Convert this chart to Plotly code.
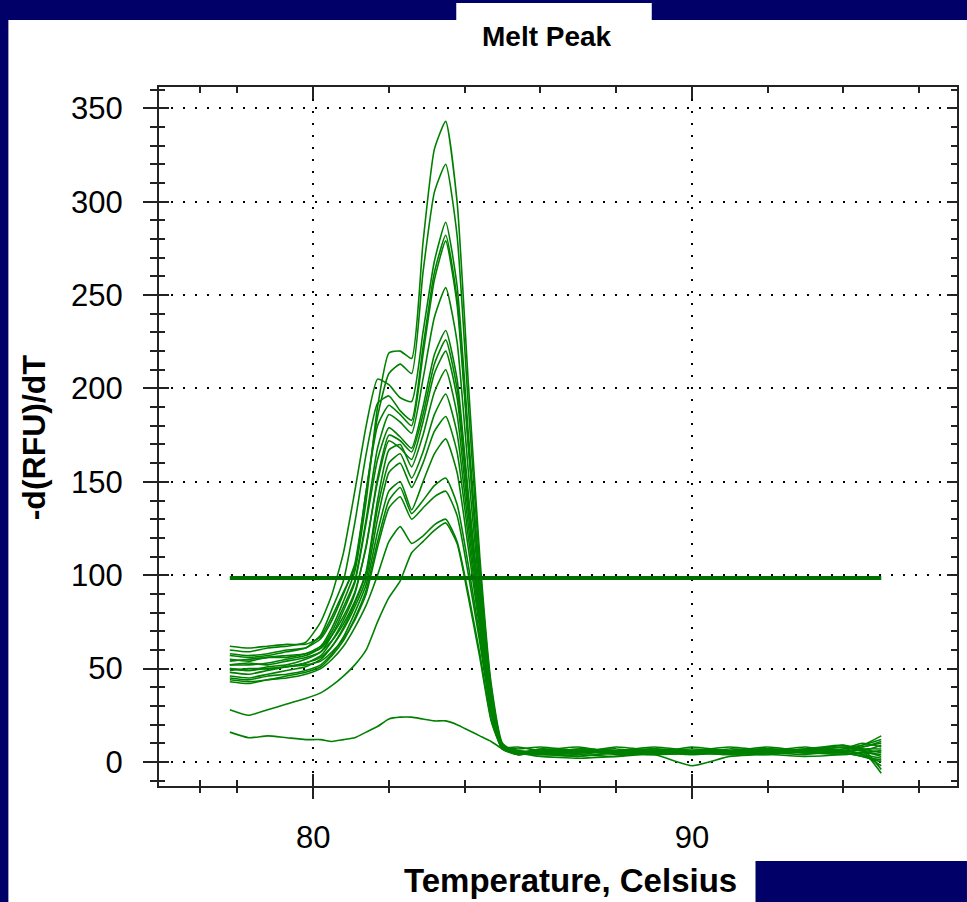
import plotly.graph_objects as go

# ---------------- data ----------------
temperature = [77.8, 78.3, 78.8, 79.3, 79.8, 80.2, 80.5, 80.8, 81.1, 81.4, 81.7, 82.0,
               82.3, 82.6, 82.9, 83.2, 83.5, 83.8, 84.1, 84.4, 84.7, 85.0, 85.4,
               86, 87, 88, 89, 90, 91, 92, 93, 94, 94.5, 95.0]

curve_01 = [55, 54, 56, 57, 58, 62, 72, 86, 102, 140, 190, 219, 220, 216, 278, 328, 343, 300, 202, 110, 42, 10, 5, 7, 5, 8, 6, 5, 6, 8, 6, 8, 9, 14]
curve_02 = [58, 57, 58, 60, 61, 66, 76, 90, 106, 145, 185, 208, 213, 208, 262, 305, 320, 282, 190, 105, 40, 9, 6, 5, 7, 6, 8, 6, 5, 6, 7, 9, 6, 3]
curve_03 = [60, 59, 61, 62, 64, 75, 90, 112, 145, 180, 205, 202, 195, 193, 230, 268, 289, 255, 175, 98, 38, 9, 5, 4, 5, 6, 5, 4, 5, 6, 6, 5, 8, 10]
curve_04 = [57, 56, 57, 59, 61, 68, 82, 97, 128, 165, 192, 196, 188, 183, 222, 262, 282, 248, 170, 96, 37, 9, 4, 6, 8, 5, 6, 5, 6, 5, 7, 6, 4, -2]
curve_05 = [62, 61, 62, 63, 63, 67, 78, 91, 104, 145, 180, 191, 186, 180, 218, 258, 279, 245, 168, 95, 37, 8, 7, 8, 6, 5, 7, 6, 8, 6, 5, 7, 10, 8]
curve_06 = [52, 52, 53, 55, 57, 61, 70, 83, 97, 130, 168, 186, 182, 176, 205, 238, 254, 225, 155, 90, 35, 8, 5, 6, 4, 6, 5, 8, 6, 7, 6, 9, 7, 5]
curve_07 = [50, 49, 51, 52, 55, 59, 68, 81, 96, 128, 162, 179, 174, 168, 190, 218, 231, 205, 143, 85, 33, 8, 4, 5, 4, 3, 6, 5, 4, 5, 6, 5, 3, 0]
curve_08 = [54, 55, 56, 56, 58, 61, 68, 78, 91, 115, 152, 175, 172, 166, 186, 213, 226, 200, 140, 84, 33, 8, 5, 6, 6, 7, 5, 6, 5, 4, 6, 6, 9, 12]
curve_09 = [48, 47, 49, 51, 53, 57, 65, 76, 90, 116, 150, 172, 168, 162, 182, 208, 220, 195, 137, 82, 32, 8, 8, 6, 5, 6, 7, 4, 6, 7, 5, 6, 5, 6]
curve_10 = [52, 53, 52, 54, 56, 59, 65, 74, 86, 102, 140, 167, 170, 158, 175, 198, 210, 186, 132, 80, 31, 8, 5, 4, 6, 5, 4, 5, 7, 6, 8, 5, 7, -4]
curve_11 = [46, 45, 47, 49, 51, 55, 62, 72, 85, 101, 136, 160, 165, 152, 166, 186, 197, 176, 126, 77, 30, 7, 6, 5, 7, 6, 5, 6, 5, 7, 6, 8, 6, 9]
curve_12 = [49, 50, 50, 51, 53, 56, 62, 71, 83, 98, 130, 155, 160, 147, 160, 177, 185, 166, 120, 74, 29, 7, 4, 5, 3, 5, 6, 5, 6, 5, 4, 6, 4, 2]
curve_13 = [45, 44, 46, 47, 49, 52, 58, 67, 80, 95, 123, 145, 150, 135, 150, 165, 173, 155, 114, 71, 28, 7, 5, 7, 6, 5, 6, 7, 6, 6, 6, 7, 8, 11]
curve_14 = [44, 43, 44, 46, 48, 51, 57, 65, 77, 92, 118, 140, 147, 133, 140, 148, 152, 138, 105, 67, 27, 7, 6, 5, 5, 6, 4, 5, 5, 6, 5, 4, 5, 4]
curve_15 = [50, 49, 50, 51, 52, 54, 59, 66, 76, 90, 115, 136, 142, 130, 136, 142, 145, 132, 100, 64, 26, 7, 5, 6, 6, 4, 5, 6, 6, 5, 7, 6, 6, -6]
curve_16 = [43, 42, 44, 45, 47, 50, 55, 62, 72, 84, 100, 118, 126, 117, 121, 127, 130, 118, 90, 58, 23, 7, 4, 5, 5, 6, 6, 5, 4, 6, 5, 5, 7, 7]
curve_17 = [28, 25, 28, 31, 34, 37, 41, 46, 52, 60, 75, 88, 97, 112, 118, 124, 128, 117, 88, 56, 22, 7, 5, 4, 3, 5, 4, 5, 5, 4, 6, 5, 3, 1]
curve_18 = [16, 13, 14, 13, 12, 12, 11, 12, 13, 16, 19, 23, 24, 24, 23, 22, 22, 20, 17, 14, 11, 7, 5, 3, 2, 3, 4, -2, 3, 4, 3, 4, 5, 6]

curves = [curve_01, curve_02, curve_03, curve_04, curve_05, curve_06, curve_07, curve_08, curve_09,
          curve_10, curve_11, curve_12, curve_13, curve_14, curve_15, curve_16, curve_17, curve_18]

threshold_temp = [77.8, 95.0]
threshold_value = [98.5, 98.5]

x_major = [80, 90]
x_minor = [77, 78, 82, 84, 86, 88, 92, 94, 96]

title_text = "Melt Peak"
x_title = "Temperature, Celsius"
y_title = "-d(RFU)/dT"

# ---------------- figure ----------------
x_range = [75.93, 97.0]
y_range = [-12.85, 361.4]
NAVY = "#000068"
GREEN = "#008000"
AX = "#222222"
FONT = "Liberation Sans, Arial, sans-serif"

fig = go.Figure()
for ys in curves:
    fig.add_trace(go.Scatter(x=temperature, y=ys, mode="lines",
                             line=dict(color=GREEN, width=1.6, shape="spline", smoothing=0.5),
                             showlegend=False, hoverinfo="skip"))
fig.add_trace(go.Scatter(x=threshold_temp, y=threshold_value, mode="lines",
                         xaxis="x2", yaxis="y2",
                         line=dict(color="#007000", width=4),
                         showlegend=False, hoverinfo="skip"))

W, H = 967, 902
L, R, T, B = 159, 8, 87, 116
pw, ph = W - L - R, H - T - B


def px(x):
    return (x - L) / pw


def py(y):
    return (H - B - y) / ph


shapes = [
    dict(type="rect", xref="paper", yref="paper", x0=px(8), x1=px(W + 2), y0=py(H + 2), y1=py(20),
         fillcolor="white", line=dict(width=0), layer="below"),
    dict(type="rect", xref="paper", yref="paper", x0=px(457), x1=px(653), y0=py(20.5), y1=py(3),
         fillcolor="white", line=dict(width=0), layer="below"),
    dict(type="rect", xref="paper", yref="paper", x0=px(757), x1=px(W + 2), y0=py(H + 2), y1=py(861),
         fillcolor=NAVY, line=dict(width=0), layer="below"),
]

annotations = [
    dict(text="<b>%s</b>" % title_text, xref="paper", yref="paper", x=px(548), y=py(36),
         xanchor="center", yanchor="middle", showarrow=False, font=dict(size=28, family=FONT, color="black")),
    dict(text="<b>%s</b>" % x_title, xref="paper", yref="paper", x=px(572), y=py(880),
         xanchor="center", yanchor="middle", showarrow=False, font=dict(size=33, family=FONT, color="black")),
    dict(text="<b>%s</b>" % y_title, xref="paper", yref="paper", x=px(34), y=py(437),
         xanchor="center", yanchor="middle", showarrow=False, textangle=-90,
         font=dict(size=32, family=FONT, color="black")),
]

fig.update_layout(
    width=W, height=H,
    margin=dict(l=L, r=R, t=T, b=B, pad=0),
    paper_bgcolor=NAVY, plot_bgcolor="white",
    showlegend=False,
    font=dict(family=FONT, color="black", size=31),
    shapes=shapes, annotations=annotations,
    xaxis=dict(range=x_range, showline=True, linecolor=AX, linewidth=2, mirror=True,
               tickmode="array", tickvals=x_major, ticks="outside", ticklen=11, tickwidth=2, tickcolor=AX,
               minor=dict(tickmode="array", tickvals=x_minor, ticks="outside", ticklen=5, tickwidth=2,
                          tickcolor=AX, showgrid=False),
               showgrid=True, gridcolor="black", gridwidth=2, griddash="2px,10px", zeroline=False,
               tickfont=dict(size=31, family=FONT, color="black"), ticklabelstandoff=12),
    yaxis=dict(range=y_range, showline=True, linecolor=AX, linewidth=2, mirror=True,
               tickmode="linear", tick0=0, dtick=50, ticks="outside", ticklen=14, tickwidth=2, tickcolor=AX,
               minor=dict(tickmode="linear", tick0=0, dtick=10, ticks="outside", ticklen=7, tickwidth=2,
                          tickcolor=AX, showgrid=False),
               showgrid=True, gridcolor="black", gridwidth=2, griddash="2px,10px", zeroline=False,
               tickfont=dict(size=31, family=FONT, color="black"), ticklabelstandoff=14),
    xaxis2=dict(range=x_range, overlaying="x", anchor="y2", side="bottom", showline=False, mirror="ticks",
                tickmode="array", tickvals=x_major, ticks="inside", ticklen=12, tickwidth=2, tickcolor=AX,
                minor=dict(tickmode="array", tickvals=x_minor, ticks="inside", ticklen=6, tickwidth=2,
                           tickcolor=AX, showgrid=False),
                showticklabels=False, showgrid=False, zeroline=False),
    yaxis2=dict(range=y_range, overlaying="y", anchor="x2", side="left", showline=False, mirror="ticks",
                tickmode="linear", tick0=0, dtick=50, ticks="inside", ticklen=10, tickwidth=2, tickcolor=AX,
                minor=dict(tickmode="linear", tick0=0, dtick=10, ticks="inside", ticklen=6, tickwidth=2,
                           tickcolor=AX, showgrid=False),
                showticklabels=False, showgrid=False, zeroline=False),
)

fig.write_html("out.html")
